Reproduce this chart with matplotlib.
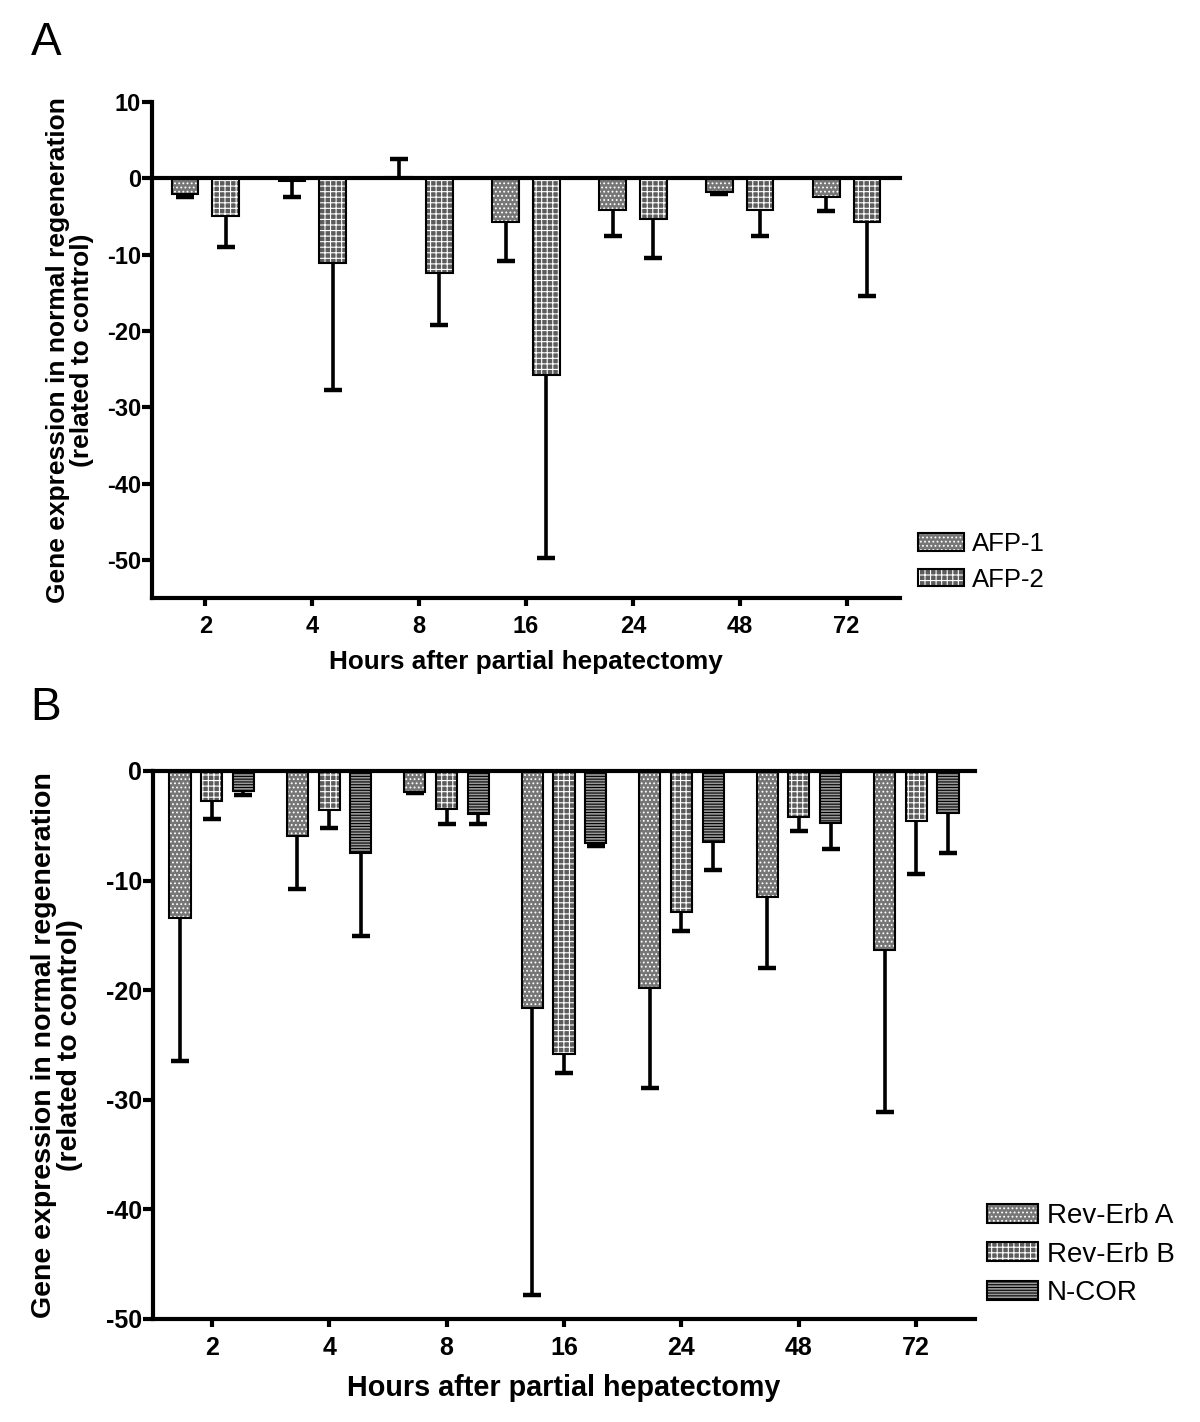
import matplotlib
matplotlib.use('Agg')
import matplotlib.pyplot as plt
from matplotlib.patches import Patch
from matplotlib.legend_handler import HandlerTuple
import numpy as np

# data
hours = ['2', '4', '8', '16', '24', '48', '72']

afp1 = [-2.0, -0.3, 0.2, -5.7, -4.1, -1.8, -2.5]
afp1_err = [0.4, 2.2, 2.3, 5.2, 3.4, 0.3, 1.8]
afp2 = [-5.0, -11.1, -12.4, -25.8, -5.3, -4.2, -5.7]
afp2_err = [4.0, 16.7, 6.8, 24.0, 5.1, 3.3, 9.7]

rev_a = [-13.4, -5.9, -1.9, -21.6, -19.8, -11.5, -16.3]
rev_a_err = [13.1, 4.9, 0.1, 26.2, 9.1, 6.5, 14.8]
rev_b = [-2.7, -3.6, -3.5, -25.8, -12.9, -4.2, -4.6]
rev_b_err = [1.65, 1.6, 1.3, 1.8, 1.7, 1.25, 4.8]
ncor = [-1.8, -7.5, -3.9, -6.6, -6.5, -4.7, -3.85]
ncor_err = [0.35, 7.6, 0.9, 0.2, 2.55, 2.4, 3.65]

# fill styles: (face, hatch, hatch colour)
STYLE_A = ('#767676', '....', 'white')
STYLE_B = ('#5c5c5c', '+++', 'white')
STYLE_C = ('#9a9a9a', '------', 'black')

plt.rcParams['font.family'] = ['Liberation Sans', 'DejaVu Sans']
plt.rcParams['hatch.linewidth'] = 0.8
plt.rcParams['axes.unicode_minus'] = False

W, H = 1200, 1422


def px_axes(fig, left, top, right, bottom):
    return fig.add_axes([left / W, 1 - bottom / H, (right - left) / W, (bottom - top) / H])


def bars(ax, x, vals, errs, width, style):
    face, hatch, hcol = style
    vals = np.asarray(vals)
    errs = np.asarray(errs)
    ax.bar(x, vals, width, color=face, edgecolor=hcol, hatch=hatch, linewidth=0, zorder=2)
    ax.bar(x, vals, width, fill=False, edgecolor='black', linewidth=1.5, zorder=3)
    lo = np.where(vals <= 0, errs, 0)
    hi = np.where(vals > 0, errs, 0)
    ax.errorbar(x, vals, yerr=[lo, hi], fmt='none', ecolor='black', elinewidth=2.6,
                capsize=0, zorder=1)
    ends = np.where(vals <= 0, vals - errs, vals + errs)
    ax.plot(x, ends, linestyle='none', marker='_', markersize=13, mew=3.2,
            color='black', zorder=1)


def handle(style):
    face, hatch, hcol = style
    return (Patch(facecolor=face, edgecolor=hcol, hatch=hatch, linewidth=0),
            Patch(fill=False, edgecolor='black', linewidth=1.5))


def style_axes(ax, ylim, yticks, tick_fs):
    ax.set_xlim(-0.5, 6.5)
    ax.set_ylim(*ylim)
    ax.set_yticks(yticks)
    ax.set_xticks(np.arange(len(hours)))
    ax.set_xticklabels(hours)
    for s in ['top', 'right']:
        ax.spines[s].set_visible(False)
    for s in ['left', 'bottom']:
        ax.spines[s].set_linewidth(3)
    ax.axhline(0, color='black', linewidth=3, zorder=4, clip_on=False)
    ax.tick_params(axis='y', direction='out', length=7, width=3, pad=1)
    ax.tick_params(axis='x', direction='out', length=6, width=3, pad=6)
    for lab in ax.get_xticklabels() + ax.get_yticklabels():
        lab.set_fontweight('bold')
        lab.set_fontsize(tick_fs)


fig = plt.figure(figsize=(W / 100, H / 100), dpi=100)
hmap = {tuple: HandlerTuple(ndivide=1, pad=0)}

# ---- panel A
axA = px_axes(fig, 152, 102, 900, 598)
x = np.arange(len(hours))
bars(axA, x - 0.19, afp1, afp1_err, 0.25, STYLE_A)
bars(axA, x + 0.19, afp2, afp2_err, 0.25, STYLE_B)
style_axes(axA, (-55, 10), [10, 0, -10, -20, -30, -40, -50], 17)
axA.set_ylabel('Gene expression in normal regeneration\n(related to control)',
               fontsize=19, fontweight='bold', linespacing=1.0)
axA.yaxis.set_label_coords(-0.078, 0.5)
axA.set_xlabel('Hours after partial hepatectomy', fontsize=18.8, fontweight='bold')
axA.xaxis.set_label_coords(0.5, -0.105)
fig.text(31 / W, 1 - 55 / H, 'A', fontsize=33, va='baseline')
fig.legend([handle(STYLE_A), handle(STYLE_B)], ['AFP-1', 'AFP-2'], handler_map=hmap,
           loc='upper left', bbox_to_anchor=(918 / W, 1 - 532 / H), frameon=False,
           fontsize=18.5, handlelength=1.8, handleheight=0.68, handletextpad=0.3,
           labelspacing=0.45, borderpad=0, borderaxespad=0)

# ---- panel B
axB = px_axes(fig, 153, 771, 975, 1319)
bars(axB, x - 0.27, rev_a, rev_a_err, 0.18, STYLE_A)
bars(axB, x, rev_b, rev_b_err, 0.18, STYLE_B)
bars(axB, x + 0.27, ncor, ncor_err, 0.18, STYLE_C)
style_axes(axB, (-50, 0), [0, -10, -20, -30, -40, -50], 18)
axB.set_ylabel('Gene expression in normal regeneration\n(related to control)',
               fontsize=20.5, fontweight='bold', linespacing=1.0)
axB.yaxis.set_label_coords(-0.085, 0.5)
axB.set_xlabel('Hours after partial hepatectomy', fontsize=20.7, fontweight='bold')
axB.xaxis.set_label_coords(0.5, -0.1)
fig.text(30 / W, 1 - 720 / H, 'B', fontsize=33, va='baseline')
fig.legend([handle(STYLE_A), handle(STYLE_B), handle(STYLE_C)],
           ['Rev-Erb A', 'Rev-Erb B', 'N-COR'], handler_map=hmap,
           loc='upper left', bbox_to_anchor=(987 / W, 1 - 1203 / H), frameon=False,
           fontsize=20, handlelength=1.85, handleheight=0.68, handletextpad=0.3,
           labelspacing=0.45, borderpad=0, borderaxespad=0)

fig.savefig('out.png', dpi=100)
